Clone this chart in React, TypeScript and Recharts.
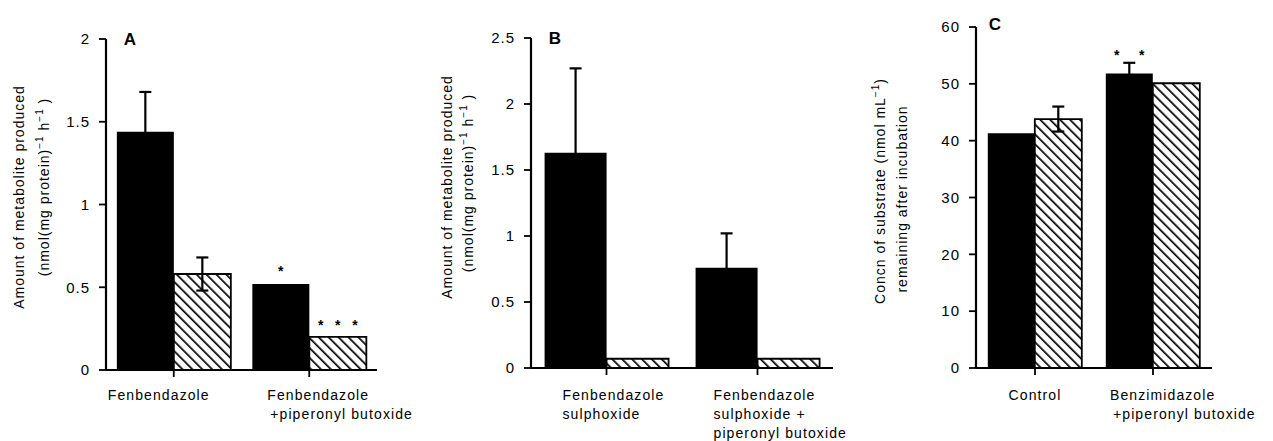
import React from 'react';
import { BarChart, Bar, XAxis, YAxis, ErrorBar, LabelList } from 'recharts';

const FONT = '"Liberation Sans", Arial, Helvetica, sans-serif';

// Panel A
const catsA = ['Fenbendazole', 'Fenbendazole + piperonyl butoxide'];
const tickLinesA = [['Fenbendazole'], ['Fenbendazole', '+piperonyl butoxide']];
const blackA = [1.44, 0.52];
const blackErrA = [0.24, 0];
const hatchA = [0.58, 0.2];
const hatchErrA = [0.1, 0];
const blackSigA = ['', '*'];
const hatchSigA = ['', '*   *   *'];
const yTicksA = [0, 0.5, 1, 1.5, 2];

// Panel B
const catsB = ['Fenbendazole sulphoxide', 'Fenbendazole sulphoxide + piperonyl butoxide'];
const tickLinesB = [['Fenbendazole', 'sulphoxide'], ['Fenbendazole', 'sulphoxide +', 'piperonyl butoxide']];
const blackB = [1.63, 0.76];
const blackErrB = [0.64, 0.26];
const hatchB = [0.07, 0.07];
const hatchErrB = [0, 0];
const yTicksB = [0, 0.5, 1, 1.5, 2, 2.5];

// Panel C
const catsC = ['Control', 'Benzimidazole + piperonyl butoxide'];
const tickLinesC = [['Control'], ['Benzimidazole', '+piperonyl butoxide']];
const blackC = [41.3, 51.8];
const blackErrC = [0, 1.9];
const hatchC = [43.8, 50.1];
const hatchErrC = [2.2, 0];
const blackSigC = ['', '*     *'];
const yTicksC = [0, 10, 20, 30, 40, 50, 60];

const rows = (
  cats: string[],
  black: number[],
  blackErr: number[],
  hatch: number[],
  hatchErr: number[],
  blackSig: string[] = [],
  hatchSig: string[] = []
) =>
  cats.map((name, i) => ({
    name,
    black: black[i],
    blackErr: blackErr[i],
    hatch: hatch[i],
    hatchErr: hatchErr[i],
    blackSig: blackSig[i] ?? '',
    hatchSig: hatchSig[i] ?? '',
  }));

const dataA = rows(catsA, blackA, blackErrA, hatchA, hatchErrA, blackSigA, hatchSigA);
const dataB = rows(catsB, blackB, blackErrB, hatchB, hatchErrB);
const dataC = rows(catsC, blackC, blackErrC, hatchC, hatchErrC, blackSigC);

type LineSpec = { dx: number; anchor: 'start' | 'middle' };

const makeTick = (cats: string[], lines: string[][], layout: LineSpec[][]) => (props: any) => {
  const { x, payload } = props;
  const i = cats.indexOf(payload.value);
  if (i < 0) return null;
  return (
    <g>
      {lines[i].map((t, j) => (
        <text
          key={j}
          x={x + layout[i][j].dx}
          y={400 + j * 19}
          textAnchor={layout[i][j].anchor}
          fontSize={14}
          letterSpacing={1.1}
          fontFamily={FONT}
          fill="#000"
        >
          {t}
        </text>
      ))}
    </g>
  );
};

const sigLabel = (offset: number) => (props: any) => {
  const { x, y, width, value } = props;
  if (!value) return null;
  return (
    <text
      x={x + width / 2}
      y={y - offset}
      textAnchor="middle"
      fontSize={14}
      fontWeight="bold"
      fontFamily={FONT}
      fill="#000"
      style={{ whiteSpace: 'pre' }}
    >
      {value}
    </text>
  );
};

const Rot = ({ x, y, children }: { x: number; y: number; children: React.ReactNode }) => (
  <text
    transform={`translate(${x},${y}) rotate(-90)`}
    textAnchor="middle"
    dominantBaseline="central"
    fontSize={14}
    letterSpacing={1}
    fontFamily={FONT}
    fill="#000"
  >
    {children}
  </text>
);

const Letter = ({ x, y, t }: { x: number; y: number; t: string }) => (
  <text x={x} y={y} textAnchor="middle" dominantBaseline="central" fontSize={17} fontWeight="bold" fontFamily={FONT} fill="#000">
    {t}
  </text>
);

const unitLine = (
  <>
    <tspan>(nmol(mg protein)</tspan>
    <tspan dy={-5} fontSize={10}>−1</tspan>
    <tspan dy={5}> h</tspan>
    <tspan dy={-5} fontSize={10}>−1</tspan>
    <tspan dy={5}> )</tspan>
  </>
);

interface PanelProps {
  left: number;
  width: number;
  margin: { top: number; right: number; bottom: number; left: number };
  yWidth: number;
  domain: [number, number];
  ticks: number[];
  data: any[];
  tick: (p: any) => any;
  gap: string;
  errW: number;
  blackSigOffset?: number;
  hatchSigOffset?: number;
  overlay: React.ReactNode;
}

const Panel = ({ left, width, margin, yWidth, domain, ticks, data, tick, gap, errW, blackSigOffset = 8, hatchSigOffset = 7, overlay }: PanelProps) => (
  <div style={{ position: 'absolute', left, top: 0, width, height: 441 }}>
    <BarChart width={width} height={441} data={data} margin={margin} barCategoryGap={gap} barGap={0}>
      <XAxis
        dataKey="name"
        type="category"
        interval={0}
        height={40}
        tickSize={7}
        axisLine={{ stroke: '#000', strokeWidth: 2.2 }}
        tickLine={{ stroke: '#000', strokeWidth: 1.8 }}
        tick={tick}
      />
      <YAxis
        type="number"
        domain={domain}
        ticks={ticks}
        interval={0}
        width={yWidth}
        tickSize={7}
        tickMargin={9}
        axisLine={{ stroke: '#000', strokeWidth: 2.2 }}
        tickLine={{ stroke: '#000', strokeWidth: 1.8 }}
        tick={{ fill: '#000', fontSize: 15, fontFamily: FONT, letterSpacing: 1 }}
      />
      <Bar dataKey="black" fill="#000" isAnimationActive={false}>
        <ErrorBar dataKey="blackErr" width={errW} stroke="#000" strokeWidth={2.2} />
        <LabelList dataKey="blackSig" content={sigLabel(blackSigOffset)} />
      </Bar>
      <Bar dataKey="hatch" fill="url(#hatch)" stroke="#000" strokeWidth={1.8} isAnimationActive={false}>
        <ErrorBar dataKey="hatchErr" width={errW} stroke="#000" strokeWidth={2.2} />
        <LabelList dataKey="hatchSig" content={sigLabel(hatchSigOffset)} />
      </Bar>
    </BarChart>
    <svg width={width} height={441} style={{ position: 'absolute', left: 0, top: 0, pointerEvents: 'none' }}>
      {overlay}
    </svg>
  </div>
);

export default function App() {
  return (
    <div style={{ position: 'relative', width: 1273, height: 441, background: '#fff', fontFamily: FONT }}>
      <style>{'body{margin:0}'}</style>
      <svg width={0} height={0} style={{ position: 'absolute' }}>
        <defs>
          <pattern id="hatch" width={7} height={7} patternUnits="userSpaceOnUse" patternTransform="rotate(-45)">
            <rect width={7} height={7} fill="#fff" />
            <line x1={0} y1={0} x2={0} y2={7} stroke="#000" strokeWidth={3.4} />
          </pattern>
        </defs>
      </svg>

      <Panel
        left={0}
        width={430}
        margin={{ top: 39, right: 53, bottom: 31, left: 0 }}
        yWidth={106}
        domain={[0, 2]}
        ticks={yTicksA}
        data={dataA}
        gap="8%"
        errW={6}
        blackSigOffset={8}
        hatchSigOffset={7}
        tick={makeTick(catsA, tickLinesA, [
          [{ dx: -15, anchor: 'middle' }],
          [{ dx: -42, anchor: 'start' }, { dx: -39, anchor: 'start' }],
        ])}
        overlay={
          <>
            <Rot x={19} y={197}>Amount of metabolite produced</Rot>
            <Rot x={44} y={187}>{unitLine}</Rot>
            <Letter x={130} y={39} t="A" />
          </>
        }
      />

      <Panel
        left={430}
        width={420}
        margin={{ top: 38, right: 17, bottom: 33, left: 0 }}
        yWidth={101}
        domain={[0, 2.5]}
        ticks={yTicksB}
        data={dataB}
        gap="9%"
        errW={6}
        tick={makeTick(catsB, tickLinesB, [
          [{ dx: -44, anchor: 'start' }, { dx: -44, anchor: 'start' }],
          [{ dx: -44, anchor: 'start' }, { dx: -44, anchor: 'start' }, { dx: -44, anchor: 'start' }],
        ])}
        overlay={
          <>
            <Rot x={17} y={187}>Amount of metabolite produced</Rot>
            <Rot x={38} y={183}>{unitLine}</Rot>
            <Letter x={125} y={38} t="B" />
          </>
        }
      />

      <Panel
        left={850}
        width={423}
        margin={{ top: 27, right: 61, bottom: 33, left: 0 }}
        yWidth={126}
        domain={[0, 60]}
        ticks={yTicksC}
        data={dataC}
        gap="10%"
        errW={6}
        blackSigOffset={14}
        tick={makeTick(catsC, tickLinesC, [
          [{ dx: 0, anchor: 'middle' }],
          [{ dx: -43, anchor: 'start' }, { dx: -40, anchor: 'start' }],
        ])}
        overlay={
          <>
            <Rot x={30} y={191}>
              <tspan>Concn of substrate (nmol mL</tspan>
              <tspan dy={-5} fontSize={10}>−1</tspan>
              <tspan dy={5}>)</tspan>
            </Rot>
            <Rot x={52} y={199}>remaining after incubation</Rot>
            <Letter x={145} y={24} t="C" />
          </>
        }
      />
    </div>
  );
}
